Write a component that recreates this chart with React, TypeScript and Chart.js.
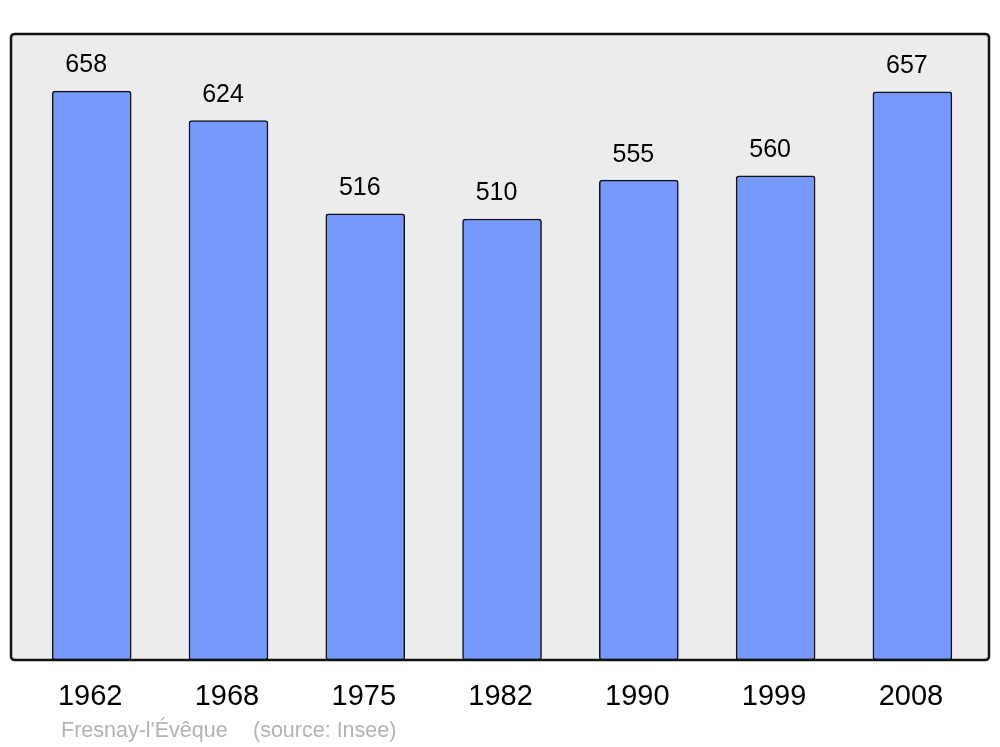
import React, { useEffect, useRef } from "react";
import { Chart, registerables } from "chart.js";

Chart.register(...registerables);

const years: string[] = ["1962", "1968", "1975", "1982", "1990", "1999", "2008"];
const population: number[] = [658, 624, 516, 510, 555, 560, 657];
const placeName = "Fresnay-l'Évêque";
const sourceText = "(source: Insee)";

const FONT = '"Liberation Sans", Arial, sans-serif';

function roundRect(ctx: CanvasRenderingContext2D, x: number, y: number, w: number, h: number, r: number) {
  ctx.beginPath();
  ctx.moveTo(x + r, y);
  ctx.lineTo(x + w - r, y);
  ctx.quadraticCurveTo(x + w, y, x + w, y + r);
  ctx.lineTo(x + w, y + h - r);
  ctx.quadraticCurveTo(x + w, y + h, x + w - r, y + h);
  ctx.lineTo(x + r, y + h);
  ctx.quadraticCurveTo(x, y + h, x, y + h - r);
  ctx.lineTo(x, y + r);
  ctx.quadraticCurveTo(x, y, x + r, y);
  ctx.closePath();
}

const framePlugin = {
  id: "frame",
  beforeDatasetsDraw(chart: any) {
    const { ctx, chartArea: a } = chart;
    ctx.save();
    roundRect(ctx, a.left, a.top, a.right - a.left, a.bottom - a.top, 4);
    ctx.fillStyle = "#ececec";
    ctx.fill();
    ctx.restore();
  },
  afterDatasetsDraw(chart: any) {
    const { ctx, chartArea: a } = chart;
    ctx.save();
    roundRect(ctx, a.left, a.top, a.right - a.left, a.bottom - a.top, 4);
    ctx.lineWidth = 2.5;
    ctx.strokeStyle = "#111";
    ctx.stroke();
    ctx.restore();
  },
  afterDraw(chart: any) {
    const { ctx } = chart;
    const xs = chart.scales.x;
    const ys = chart.scales.y;
    ctx.save();
    ctx.fillStyle = "#000";
    ctx.textAlign = "center";
    ctx.textBaseline = "middle";
    years.forEach((yr, i) => {
      const px = xs.getPixelForValue(i);
      ctx.font = `29px ${FONT}`;
      ctx.fillText(yr, px - 1.5, 697);
      const top = ys.getPixelForValue(population[i]);
      ctx.font = `25px ${FONT}`;
      ctx.fillText(String(population[i]), px - 5.5, top - 25.5);
    });
    ctx.fillStyle = "#b3b3b3";
    ctx.font = `21.5px ${FONT}`;
    ctx.textAlign = "left";
    ctx.textBaseline = "alphabetic";
    ctx.fillText(placeName, 61, 737);
    ctx.fillText(sourceText, 253, 737);
    ctx.restore();
  },
};

export default function App() {
  const ref = useRef<HTMLCanvasElement>(null);
  useEffect(() => {
    if (!ref.current) return;
    const chart = new Chart(ref.current, {
      type: "bar",
      data: {
        datasets: [
          {
            data: population.map((v, i) => ({ x: i, y: v })),
            backgroundColor: "#7799ff",
            borderColor: "#111",
            borderWidth: 1.5,
            borderRadius: 3,
            borderSkipped: false,
            barThickness: 79,
          },
        ],
      },
      options: {
        animation: false,
        responsive: false,
        maintainAspectRatio: false,
        layout: { padding: { left: 11, right: 11, top: 34, bottom: 87 } },
        plugins: { legend: { display: false }, tooltip: { enabled: false } },
        scales: {
          x: { type: "linear", min: -0.59, max: 6.56, offset: false, display: false },
          y: { min: 0, max: 724, display: false },
        },
      },
      plugins: [framePlugin],
    } as any);
    return () => chart.destroy();
  }, []);
  return (
    <div style={{ position: "absolute", left: 0, top: 0, width: 1000, height: 747, background: "#fff" }}>
      <canvas ref={ref} width={1000} height={747} style={{ display: "block" }} />
    </div>
  );
}
